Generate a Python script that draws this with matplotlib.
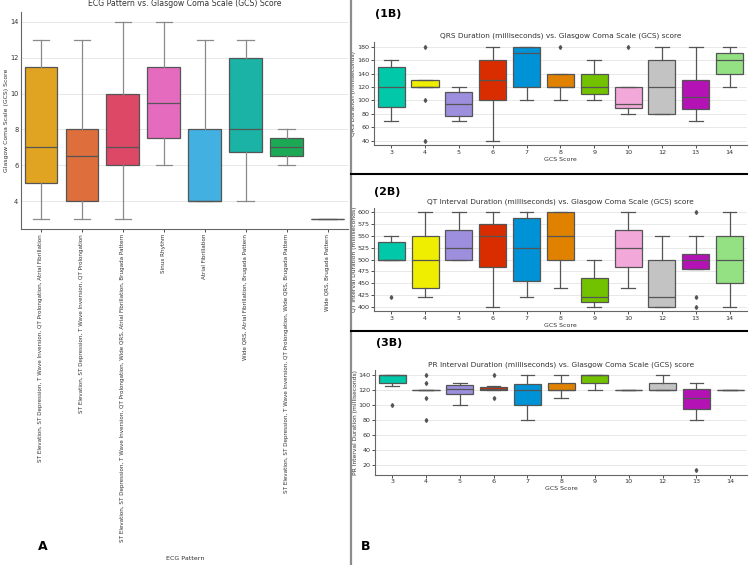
import matplotlib
matplotlib.use("Agg")
import matplotlib.pyplot as plt
from matplotlib.lines import Line2D
from matplotlib.ticker import MultipleLocator

W, H = 750, 565

# ---- panel A: ECG pattern vs GCS ----
ecg_patterns = [
    "ST Elevation, ST Depression, T Wave Inversion, QT Prolongation, Atrial Fibrillation",
    "ST Elevation, ST Depression, T Wave Inversion, QT Prolongation",
    "ST Elevation, ST Depression, T Wave Inversion, QT Prolongation, Wide QRS, Atrial Fibrillation, Brugada Pattern",
    "Sinus Rhythm",
    "Atrial Fibrillation",
    "Wide QRS, Atrial Fibrillation, Brugada Pattern",
    "ST Elevation, ST Depression, T Wave Inversion, QT Prolongation, Wide QRS, Brugada Pattern",
    "Wide QRS, Brugada Pattern",
]
a_whislo = [3, 3, 3, 6, 4, 4, 6, 3]
a_q1 = [5, 4, 6, 7.5, 4, 6.75, 6.5, 3]
a_med = [7, 6.5, 7, 9.5, 4, 8, 7, 3]
a_q3 = [11.5, 8, 10, 11.5, 8, 12, 7.5, 3]
a_whishi = [13, 13, 14, 14, 13, 13, 8, 3]
a_colors = ["#e0a422", "#de6e3c", "#dc4866", "#e56bbf", "#42b0e1", "#1ab3a5", "#1ba955", "#8c8c8c"]

# ---- panel B: durations vs GCS score ----
gcs_scores = [3, 4, 5, 6, 7, 8, 9, 10, 12, 13, 14]
b_colors = ["#00c8a8", "#f0ee00", "#9d8fdd", "#d92d00", "#0092d6", "#e08200",
            "#72c200", "#f2a8d8", "#c3c3c3", "#b412b4", "#94e184"]

qrs_whislo = [70, 120, 70, 40, 100, 100, 100, 80, 80, 70, 120]
qrs_q1 = [90, 120, 77, 100, 120, 120, 110, 88, 80, 87, 140]
qrs_med = [120, 120, 95, 130, 170, 120, 120, 95, 120, 105, 160]
qrs_q3 = [150, 130, 112, 160, 180, 140, 140, 120, 160, 130, 170]
qrs_whishi = [160, 130, 120, 180, 180, 140, 160, 120, 180, 180, 180]
qrs_fliers = [[], [180, 100, 40], [], [], [], [180], [], [180], [], [], []]

qt_whislo = [500, 420, 500, 400, 420, 440, 400, 440, 400, 480, 400]
qt_q1 = [500, 440, 500, 485, 455, 500, 410, 485, 400, 480, 450]
qt_med = [500, 500, 525, 550, 525, 550, 420, 525, 420, 500, 500]
qt_q3 = [537, 550, 562, 575, 587, 600, 460, 562, 500, 512, 550]
qt_whishi = [550, 600, 600, 600, 600, 600, 500, 600, 550, 550, 600]
qt_fliers = [[420], [], [], [], [], [], [], [], [], [600, 420, 400], []]

pr_whislo = [126, 120, 100, 120, 80, 110, 120, 120, 120, 80, 120]
pr_q1 = [130, 120, 115, 120, 100, 120, 130, 120, 120, 95, 120]
pr_med = [140, 120, 122, 122, 120, 120, 140, 120, 120, 110, 120]
pr_q3 = [140, 120, 127, 124, 128, 130, 140, 120, 130, 121, 120]
pr_whishi = [140, 120, 130, 126, 140, 140, 140, 120, 140, 130, 120]
pr_fliers = [[100], [140, 130, 110, 80], [], [140, 110], [], [], [], [], [], [14], []]

TXT = "#333333"
EDGE = "#555555"


def px_axes(fig, l, t, r, b):
    return fig.add_axes([l / W, 1 - b / H, (r - l) / W, (b - t) / H])


def draw_boxes(ax, whislo, q1, med, q3, whishi, colors, fliers=None, whisk_col=EDGE):
    stats = []
    for i in range(len(med)):
        stats.append({"whislo": whislo[i], "q1": q1[i], "med": med[i], "q3": q3[i],
                      "whishi": whishi[i], "fliers": fliers[i] if fliers else []})
    bp = ax.bxp(stats, positions=range(len(stats)), widths=0.8, patch_artist=True,
                boxprops=dict(edgecolor=EDGE, linewidth=0.9),
                medianprops=dict(color=EDGE, linewidth=0.9),
                whiskerprops=dict(color=whisk_col, linewidth=0.9),
                capprops=dict(color=whisk_col, linewidth=0.9),
                flierprops=dict(marker="d", markersize=2, markerfacecolor=EDGE,
                                markeredgecolor=EDGE))
    for patch, c in zip(bp["boxes"], colors):
        patch.set_facecolor(c)
    ax.set_xlim(-0.5, len(stats) - 0.5)


def style(ax, fs=4.6):
    ax.grid(axis="y", color="#e4e4e4", linewidth=0.6)
    ax.set_axisbelow(True)
    for s in ["top", "right"]:
        ax.spines[s].set_visible(False)
    for s in ["left", "bottom"]:
        ax.spines[s].set_color("#666666")
        ax.spines[s].set_linewidth(0.8)
    ax.tick_params(labelsize=fs, colors=TXT, length=2, width=0.6, pad=1.5)


def b_panel(ax, whislo, q1, med, q3, whishi, fliers, step, title, ylabel):
    draw_boxes(ax, whislo, q1, med, q3, whishi, b_colors, fliers)
    style(ax)
    ax.yaxis.set_major_locator(MultipleLocator(step))
    ax.set_xticks(range(len(gcs_scores)))
    ax.set_xticklabels(gcs_scores)
    ax.set_title(title, fontsize=5.35, color=TXT, pad=3)
    ax.set_xlabel("GCS Score", fontsize=4.5, color=TXT, labelpad=1)
    ax.set_ylabel(ylabel, fontsize=4.3, color=TXT, labelpad=0.5)


fig = plt.figure(figsize=(W / 100, H / 100), dpi=100)

# panel A
axA = px_axes(fig, 20.5, 12, 348, 229)
draw_boxes(axA, a_whislo, a_q1, a_med, a_q3, a_whishi, a_colors, whisk_col="#8a8a8a")
style(axA, fs=4.8)
axA.tick_params(axis="y", length=0)
axA.set_xticks(range(len(ecg_patterns)))
axA.set_xticklabels(ecg_patterns, rotation=90, fontsize=4.1, color=TXT)
axA.yaxis.set_major_locator(MultipleLocator(2))
axA.set_title("ECG Pattern vs. Glasgow Coma Scale (GCS) Score", fontsize=5.6, color=TXT, pad=4)
axA.set_ylabel("Glasgow Coma Scale (GCS) Score", fontsize=4.4, color=TXT, labelpad=1)
fig.text(185 / W, 1 - 558 / H, "ECG Pattern", fontsize=4.6, color=TXT, ha="center", va="center")
fig.text(43 / W, 1 - 547 / H, "A", fontsize=9, fontweight="bold", ha="center", va="center")

# panels 1B, 2B, 3B
ax1 = px_axes(fig, 374.2, 42, 746.5, 145.4)
b_panel(ax1, qrs_whislo, qrs_q1, qrs_med, qrs_q3, qrs_whishi, qrs_fliers, 20,
        "QRS Duration (milliseconds) vs. Glasgow Coma Scale (GCS) score", "QRS Duration (milliseconds)")
fig.text(375 / W, 1 - 14 / H, "(1B)", fontsize=8, fontweight="bold", ha="left", va="center")

ax2 = px_axes(fig, 374.3, 207.6, 746.5, 311.4)
b_panel(ax2, qt_whislo, qt_q1, qt_med, qt_q3, qt_whishi, qt_fliers, 25,
        "QT Interval Duration (milliseconds) vs. Glasgow Coma Scale (GCS) score", "QT Interval Duration (milliseconds)")
fig.text(374 / W, 1 - 192 / H, "(2B)", fontsize=8, fontweight="bold", ha="left", va="center")

ax3 = px_axes(fig, 375.3, 370.3, 747, 474.5)
b_panel(ax3, pr_whislo, pr_q1, pr_med, pr_q3, pr_whishi, pr_fliers, 20,
        "PR Interval Duration (milliseconds) vs. Glasgow Coma Scale (GCS) score", "PR Interval Duration (milliseconds)")
fig.text(376 / W, 1 - 343 / H, "(3B)", fontsize=8, fontweight="bold", ha="left", va="center")
fig.text(366 / W, 1 - 546 / H, "B", fontsize=9, fontweight="bold", ha="center", va="center")

# panel separators
fig.add_artist(Line2D([351 / W, 351 / W], [0, 1], color="#8c8c8c", linewidth=1.6, transform=fig.transFigure))
for yy in [174, 331]:
    fig.add_artist(Line2D([351 / W, 747 / W], [1 - yy / H, 1 - yy / H], color="black",
                          linewidth=1.5, transform=fig.transFigure))

fig.savefig("out.png", dpi=100)
